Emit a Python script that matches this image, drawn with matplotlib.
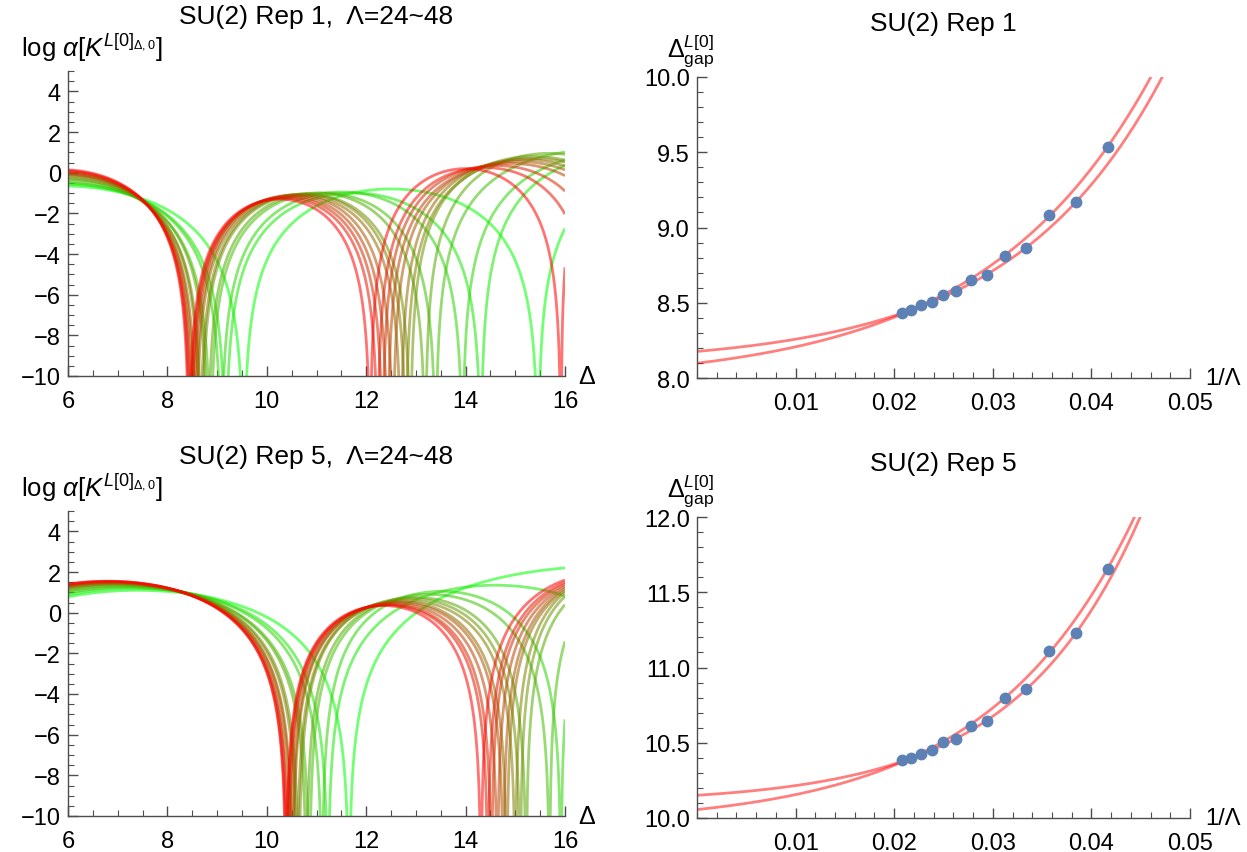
import numpy as np
import matplotlib
matplotlib.use("Agg")
import matplotlib.pyplot as plt
from matplotlib.ticker import MultipleLocator

plt.rcParams["font.family"] = ["Liberation Sans", "DejaVu Sans"]
plt.rcParams["mathtext.fontset"] = "custom"
plt.rcParams["mathtext.rm"] = "Liberation Sans"
plt.rcParams["mathtext.it"] = "Liberation Sans:italic"

# ---- data ----
lam = [24, 26, 28, 30, 32, 34, 36, 38, 40, 42, 44, 46, 48]

# first zero of each curve = Delta_gap (right panels)
rep1_gap = [9.536, 9.171, 9.085, 8.866, 8.813, 8.687, 8.654, 8.579, 8.550, 8.506, 8.482, 8.453, 8.431]
rep5_gap = [11.655, 11.231, 11.112, 10.857, 10.800, 10.645, 10.608, 10.526, 10.504, 10.453, 10.427, 10.398, 10.387]

# left panels: zero left of the plot range, further zeros, and arch heights between zeros
rep1_left = [2.16, 2.53, 2.62, 2.83, 2.89, 3.01, 3.05, 3.12, 3.15, 3.19, 3.22, 3.25, 3.27]
rep1_more = [[15.46, 21.7], [14.31, 20.8], [13.94, 20.7], [13.40, 19.74], [13.19, 18.17],
             [12.89, 17.85], [12.80, 17.91], [12.70, 17.66], [12.54, 17.59], [12.43, 17.40],
             [12.33, 16.92], [12.23, 16.55], [12.08, 15.92, 17.5]]
rep1_peaks = [[-0.65, -0.8, 0.5], [-0.55, -1.0, 1.1], [-0.5, -0.95, 1.1], [-0.4, -1.0, 1.1],
              [-0.3, -1.0, 0.95], [-0.25, -1.05, 0.8], [-0.15, -1.05, 0.7], [-0.1, -1.1, 0.65],
              [-0.05, -1.1, 0.55], [0.0, -1.15, 0.45], [0.05, -1.2, 0.35], [0.1, -1.25, 0.25],
              [0.15, -1.3, 0.2, 0.0]]

rep5_left = [3.15, 3.37, 3.29, 3.34, 3.30, 3.36, 3.29, 3.27, 3.30, 3.25, 3.27, 3.20, 3.21]
rep5_more = [[22.35], [17.97, 22.0], [15.92, 20.0], [15.69, 19.5], [15.22, 19.78], [15.10, 19.47],
             [15.00, 19.4], [14.83, 19.73], [14.76, 19.7], [14.64, 19.76], [14.52, 19.78],
             [14.45, 19.65], [14.31, 19.6]]
rep5_peaks = [[1.1, 2.3], [1.2, 1.35, 2.0], [1.25, 1.05, 2.0], [1.3, 0.9, 2.0], [1.35, 0.75, 2.0],
              [1.4, 0.7, 2.0], [1.42, 0.6, 2.0], [1.45, 0.55, 2.0], [1.48, 0.5, 2.0],
              [1.5, 0.45, 2.0], [1.52, 0.4, 2.0], [1.54, 0.38, 2.0], [1.55, 0.35, 2.0]]

STEEP = 6.5  # how fast the arches fall into a zero


def arch_curve(x, zeros, peaks):
    y = np.full_like(x, np.nan)
    for z0, z1, p in zip(zeros[:-1], zeros[1:], peaks):
        m = (x >= z0) & (x <= z1)
        u = (x[m] - (z0 + z1) / 2) / ((z1 - z0) / 2)
        y[m] = p + STEEP * np.log10(np.clip(1 - u ** 2, 1e-12, None))
    return np.clip(y, -20, None)


def exp_fit(x, y):
    # y = a + b*exp(c x), grid over c, least squares for a, b
    best = None
    for c in np.linspace(5, 200, 1951):
        A = np.column_stack([np.ones_like(x), np.exp(c * x)])
        coef = np.linalg.lstsq(A, y, rcond=None)[0]
        r = np.sum((A @ coef - y) ** 2)
        if best is None or r < best[0]:
            best = (r, coef[0], coef[1], c)
    return best[1:]


W, H = 1247, 853
fig = plt.figure(figsize=(W / 100, H / 100), dpi=100)


def axes_px(x0, x1, ytop, ybot):
    return fig.add_axes([x0 / W, 1 - ybot / H, (x1 - x0) / W, (ybot - ytop) / H])


def style(ax):
    for s in ["top", "right"]:
        ax.spines[s].set_visible(False)
    for s in ["left", "bottom"]:
        ax.spines[s].set_color("0.3")
        ax.spines[s].set_linewidth(1.0)
    ax.tick_params(which="both", direction="in", color="0.3", labelsize=17)
    ax.tick_params(axis="x", pad=10)
    ax.tick_params(axis="y", pad=5)
    ax.tick_params(which="major", length=7, width=1.0)
    ax.tick_params(which="minor", length=4, width=0.8)


lam_arr = np.array(lam)
t = (lam_arr - lam_arr.min()) / (lam_arr.max() - lam_arr.min())

panels = [
    ("SU(2) Rep 1", rep1_gap, rep1_left, rep1_more, rep1_peaks, (72, 377), (78, 379), (8.0, 10.0)),
    ("SU(2) Rep 5", rep5_gap, rep5_left, rep5_more, rep5_peaks, (512, 817), (518, 819), (10.0, 12.0)),
]

for name, gap, left, more, peaks, lbox, rbox, ylim in panels:
    # ---- left: log alpha curves ----
    ax = axes_px(68, 565, lbox[0], lbox[1])
    style(ax)
    grid = np.linspace(6, 16, 8001)
    for i in range(len(lam)):
        zeros = [left[i], gap[i]] + more[i]
        inside = [z for z in zeros if 6 <= z <= 16]
        x = np.sort(np.concatenate([grid, inside]))
        y = arch_curve(x, zeros, peaks[i])
        ax.plot(x, y, color=(t[i], 1 - t[i], 0), alpha=0.55, lw=2.0, solid_capstyle="butt")
    ax.set_xlim(6, 16)
    ax.set_ylim(-10, 5)
    ax.set_xticks([6, 8, 10, 12, 14, 16])
    ax.set_yticks([-10, -8, -6, -4, -2, 0, 2, 4])
    ax.xaxis.set_minor_locator(MultipleLocator(0.5))
    ax.yaxis.set_minor_locator(MultipleLocator(0.5))
    ax.text(0.5, 1.18, name + ",  \u039b=24~48", transform=ax.transAxes, ha="center", va="center", fontsize=19)
    ax.text(-0.094, 1.08, r"log $\alpha[K^{L[0]_{\Delta,0}}]$", transform=ax.transAxes,
            ha="left", va="center", fontsize=18.5)
    ax.text(1.026, 0.0, "\u0394", transform=ax.transAxes, ha="left", va="center", fontsize=18)

    # ---- right: gap vs 1/Lambda ----
    ax = axes_px(697, 1190, rbox[0], rbox[1])
    style(ax)
    xs = 1 / lam_arr
    ys = np.array(gap)
    xx = np.linspace(0, 0.05, 600)
    for m in [lam_arr % 4 == 0, lam_arr % 4 == 2]:
        a, b, c = exp_fit(xs[m], ys[m])
        ax.plot(xx, a + b * np.exp(c * xx), color="red", alpha=0.5, lw=2.0)
    ax.plot(xs, ys, "o", color=(0.368, 0.507, 0.71), ms=7.5, zorder=3)
    ax.set_xlim(0, 0.05)
    ax.set_ylim(*ylim)
    ax.set_xticks([0.01, 0.02, 0.03, 0.04, 0.05])
    ax.set_xticklabels(["0.01", "0.02", "0.03", "0.04", "0.05"])
    ax.set_yticks(np.arange(ylim[0], ylim[1] + 0.01, 0.5))
    ax.set_yticklabels(["%.1f" % v for v in np.arange(ylim[0], ylim[1] + 0.01, 0.5)])
    ax.xaxis.set_minor_locator(MultipleLocator(0.002))
    ax.yaxis.set_minor_locator(MultipleLocator(0.1))
    ax.text(0.5, 1.18, name, transform=ax.transAxes, ha="center", va="center", fontsize=19)
    ax.text(-0.06, 1.09, r"$\Delta^{L[0]}_{\mathrm{gap}}$", transform=ax.transAxes,
            ha="left", va="center", fontsize=18)
    ax.text(1.03, 0.0, "1/\u039b", transform=ax.transAxes, ha="left", va="center", fontsize=17)

fig.savefig("out.png", dpi=100)
